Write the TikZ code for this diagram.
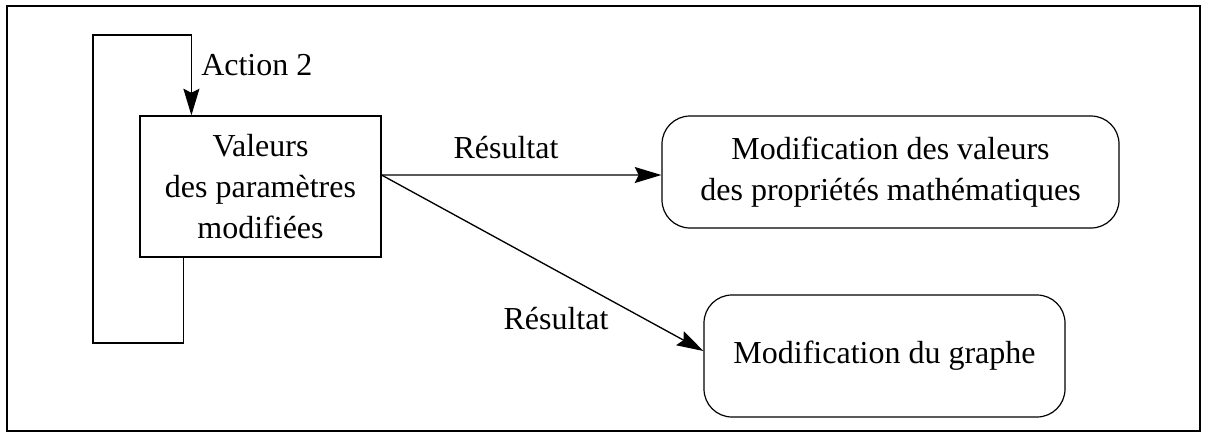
\documentclass[tikz,border=0pt]{standalone}
\usepackage{fontspec}
\setmainfont{Liberation Serif}
\usetikzlibrary{arrows.meta,positioning}
\begin{document}
\begin{tikzpicture}[x=0.75pt,y=-0.75pt,
    txt/.style={font=\fontsize{24}{30.5}\selectfont,align=center,inner sep=0pt},
    etat/.style={txt,draw,line width=0.9pt},
    resultat/.style={etat,rounded corners=21pt},
    fleche/.style={line width=1pt,-{Stealth[length=20pt,width=12pt,inset=3pt]}}]
      \useasboundingbox (0,0) rectangle (1205,433);
      \draw[line width=1.8pt] (7,6) rectangle (1200,431); % cadre
      \node[etat,minimum width=180.75pt,minimum height=105.75pt] (valeurs) at (260.5,186.5)
           {Valeurs\\des paramètres\\modifiées};
      \node[resultat,minimum width=342.75pt,minimum height=84pt] (proprietes) at (890.5,172)
           {Modification des valeurs\\des propriétés mathématiques};
      \node[resultat,minimum width=270.75pt,minimum height=91.5pt] (graphe) at (884.5,356)
           {Modification du graphe};
      \draw[fleche] ([xshift=33pt]valeurs.south west) |- (93,343) -- (93,35)
           -| ([xshift=39pt]valeurs.north west);
      \node[txt,anchor=base west] (action) at (201,75) {Action 2};
      \draw[fleche] ([yshift=8.6pt]valeurs.east) -- ([yshift=-2.25pt]proprietes.west);
      \draw[fleche] ([yshift=8.6pt]valeurs.east) -- ([yshift=3.75pt]graphe.west);
      \node[txt,anchor=base] (res1) at (506,158) {Résultat};
      \node[txt,anchor=base] (res2) at (556,329) {Résultat};
\end{tikzpicture}
\end{document}
